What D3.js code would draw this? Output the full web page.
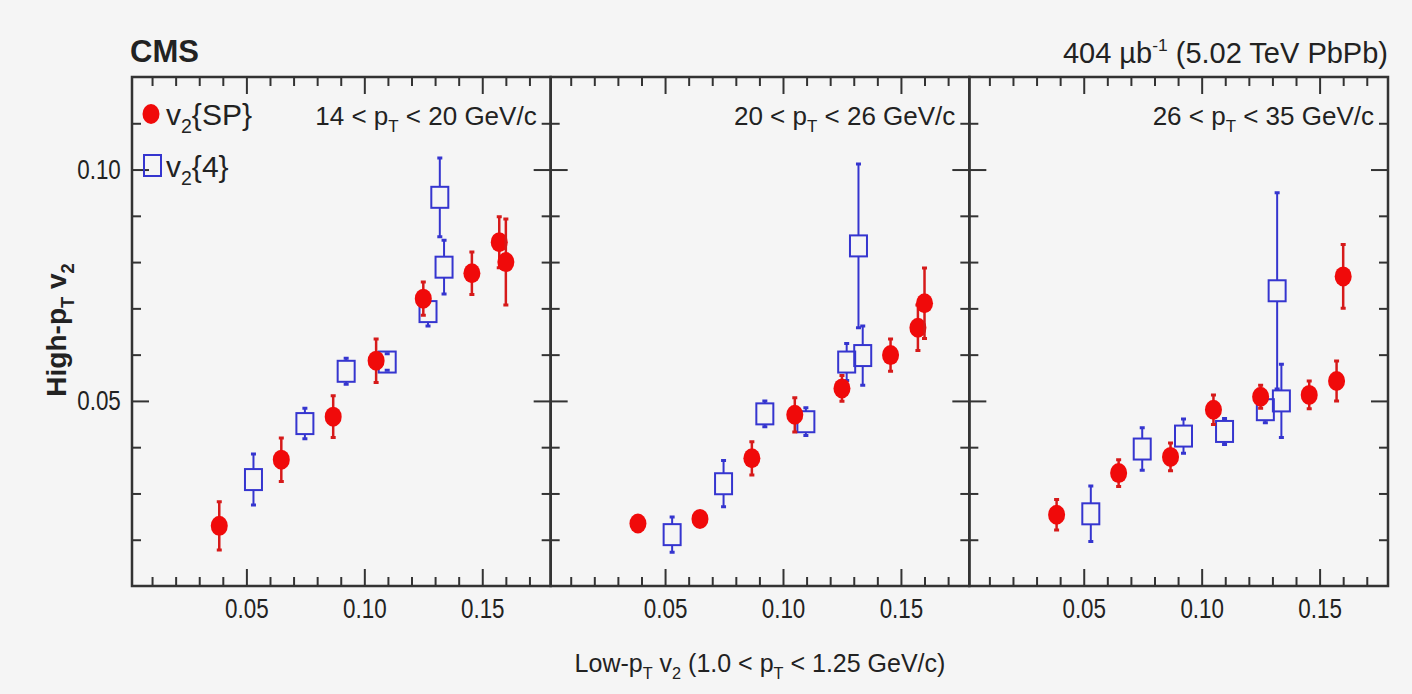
<!DOCTYPE html>
<html>
<head>
<meta charset="utf-8">
<script src="https://cdn.jsdelivr.net/npm/d3@7"></script>
<style>
  html, body { margin: 0; padding: 0; background: #f5f5f5; }
  svg { display: block; }
  text { font-family: "Liberation Sans", Arial, Helvetica, sans-serif; fill: #222; }
</style>
</head>
<body>
<div id="chart"></div>
<script>
(function () {
  "use strict";

  // low-pT v2 values (same x for the three pT bins)
  const spX = [0.0385, 0.0648, 0.0868, 0.1050, 0.1250, 0.1456, 0.1572, 0.1600];
  const c4X = [0.0530, 0.0748, 0.0923, 0.1097, 0.1270, 0.1320, 0.1338];

  // v2{SP}, one array per panel
  const spY1 = [0.0230, 0.0373, 0.0466, 0.0587, 0.0721, 0.0776, 0.0843, 0.0800];
  const spE1 = [0.0052, 0.0047, 0.0045, 0.0047, 0.0036, 0.0046, 0.0055, 0.0093];
  const spY2 = [0.0235, 0.0245, 0.0376, 0.0470, 0.0527, 0.0599, 0.0658, 0.0711];
  const spE2 = [0.0015, 0.0012, 0.0036, 0.0037, 0.0028, 0.0035, 0.0049, 0.0076];
  const spY3 = [0.0254, 0.0344, 0.0379, 0.0481, 0.0509, 0.0513, 0.0543, 0.0769];
  const spE3 = [0.0033, 0.0029, 0.0030, 0.0032, 0.0025, 0.0030, 0.0043, 0.0069];

  // v2{4}
  const c4Y1 = [0.0330, 0.0451, 0.0564, 0.0584, 0.0693, 0.0940, 0.0789];
  const c4E1 = [0.0055, 0.0033, 0.0028, 0.0018, 0.0031, 0.0085, 0.0058];
  const c4Y2 = [0.0211, 0.0321, 0.0472, 0.0455, 0.0584, 0.0835, 0.0598];
  const c4E2 = [0.0038, 0.0050, 0.0028, 0.0030, 0.0040, 0.0177, 0.0064];
  const c4Y3 = [0.0256, 0.0396, 0.0424, 0.0434, 0.0481, 0.0738, 0.0500];
  const c4E3 = [0.0060, 0.0046, 0.0037, 0.0028, 0.0028, 0.0212, 0.0079];

  const ptLow = ["14", "20", "26"];
  const ptHigh = ["20", "26", "35"];

  const xMajor = [0.05, 0.10, 0.15];
  const xMinor = [0.01, 0.02, 0.03, 0.04, 0.06, 0.07, 0.08, 0.09, 0.11, 0.12, 0.13, 0.14, 0.16, 0.17];
  const yMajor = [0.05, 0.10];
  const yMinor = [0.02, 0.03, 0.04, 0.06, 0.07, 0.08, 0.09, 0.11];

  const panels = [
    {spY: spY1, spE: spE1, c4Y: c4Y1, c4E: c4E1},
    {spY: spY2, spE: spE2, c4Y: c4Y2, c4E: c4E2},
    {spY: spY3, spE: spE3, c4Y: c4Y3, c4E: c4E3}
  ];

  const W = 1412, H = 694;
  const left = 132, right = 1388, top = 77, bottom = 586;
  const pw = (right - left) / 3;

  const red = "#f00a0a", redDark = "#d61a1a", blue = "#3535cf", ink = "#333";

  const svg = d3.select("#chart").append("svg")
    .attr("width", W).attr("height", H);

  svg.append("rect").attr("width", W).attr("height", H).attr("fill", "#f5f5f5");

  const y = d3.scaleLinear().domain([0.01, 0.12]).range([bottom, top]);

  // text with sub/superscripts; parts = [[str, "n"|"sub"|"sup"], ...]
  function rich(sel, parts, size) {
    let shift = 0;
    parts.forEach(function (p) {
      let t = sel.append("tspan").text(p[0]);
      let target = 0;
      if (p[1] === "sub") {
        t.attr("font-size", size * 0.65);
        target = size * 0.28;
      } else if (p[1] === "sup") {
        t.attr("font-size", size * 0.6);
        target = -size * 0.4;
      }
      if (target !== shift) t.attr("dy", target - shift);
      shift = target;
    });
  }

  const fmt = d3.format(".2f");

  panels.forEach(function (p, i) {
    let x0 = left + i * pw, x1 = x0 + pw;
    let x = d3.scaleLinear().domain([0.0015, 0.179]).range([x0, x1]);
    let g = svg.append("g");

    // axes, ticks pointing inward
    function axis(gen, tx, ty, vals, len, labels) {
      let a = g.append("g").attr("transform", `translate(${tx},${ty})`)
        .call(gen.tickValues(vals).tickSize(-len).tickSizeOuter(0)
          .tickPadding(10).tickFormat(labels ? fmt : ""));
      a.select(".domain").remove();
      a.selectAll("line").attr("stroke", ink).attr("stroke-width", 2);
      return a;
    }
    axis(d3.axisBottom(x), 0, bottom, xMinor, 9, false);
    let xb = axis(d3.axisBottom(x), 0, bottom, xMajor, 17, true);
    xb.selectAll("text").attr("font-size", 28).attr("fill", "#333")
      .attr("font-family", "'Liberation Sans', Arial, sans-serif")
      .attr("y", 12).attr("transform", "scale(0.8,1)");
    axis(d3.axisTop(x), 0, top, xMinor, 9, false);
    axis(d3.axisTop(x), 0, top, xMajor, 17, false);
    axis(d3.axisLeft(y), x0, 0, yMinor, 9, false);
    let yl = axis(d3.axisLeft(y), x0, 0, yMajor, 17, i === 0);
    if (i === 0) {
      yl.selectAll("text").attr("font-size", 28).attr("fill", "#333")
        .attr("font-family", "'Liberation Sans', Arial, sans-serif")
        .attr("x", -14).attr("transform", "scale(0.8,1)");
    }
    axis(d3.axisRight(y), x1, 0, yMinor, 9, false);
    axis(d3.axisRight(y), x1, 0, yMajor, 17, false);

    g.append("rect").attr("x", x0).attr("y", top)
      .attr("width", pw).attr("height", bottom - top)
      .attr("fill", "none").attr("stroke", ink).attr("stroke-width", 2.5);

    // v2{4}: open squares, error bars stop at the marker edge
    let sq = {w: 17, h: 21};
    let c4 = g.append("g").selectAll("g").data(c4X.map(function (v, k) {
      return {x: v, y: p.c4Y[k], e: p.c4E[k]};
    })).join("g");
    c4.append("line")
      .attr("x1", d => x(d.x)).attr("x2", d => x(d.x))
      .attr("y1", d => y(d.y + d.e))
      .attr("y2", d => Math.max(y(d.y) - sq.h / 2, y(d.y + d.e)))
      .attr("stroke", blue).attr("stroke-width", 2);
    c4.append("line")
      .attr("x1", d => x(d.x)).attr("x2", d => x(d.x))
      .attr("y1", d => Math.min(y(d.y) + sq.h / 2, y(d.y - d.e)))
      .attr("y2", d => y(d.y - d.e))
      .attr("stroke", blue).attr("stroke-width", 2);
    c4.append("path")
      .attr("d", d => `M${x(d.x) - 2.5},${y(d.y + d.e)}h5M${x(d.x) - 2.5},${y(d.y - d.e)}h5`)
      .attr("stroke", blue).attr("stroke-width", 3);
    c4.append("rect")
      .attr("x", d => x(d.x) - sq.w / 2).attr("y", d => y(d.y) - sq.h / 2)
      .attr("width", sq.w).attr("height", sq.h)
      .attr("fill", "none").attr("stroke", blue).attr("stroke-width", 2);

    // v2{SP}: filled circles
    let sp = g.append("g").selectAll("g").data(spX.map(function (v, k) {
      return {x: v, y: p.spY[k], e: p.spE[k]};
    })).join("g");
    sp.append("line")
      .attr("x1", d => x(d.x)).attr("x2", d => x(d.x))
      .attr("y1", d => y(d.y + d.e)).attr("y2", d => y(d.y - d.e))
      .attr("stroke", redDark).attr("stroke-width", 2.5);
    sp.append("path")
      .attr("d", d => `M${x(d.x) - 2.5},${y(d.y + d.e)}h5M${x(d.x) - 2.5},${y(d.y - d.e)}h5`)
      .attr("stroke", redDark).attr("stroke-width", 3);
    sp.append("ellipse")
      .attr("cx", d => x(d.x)).attr("cy", d => y(d.y))
      .attr("rx", 8.5).attr("ry", 10)
      .attr("fill", red);

    // pT bin label
    let lab = svg.append("text")
      .attr("x", x1 - 14).attr("y", 125)
      .attr("text-anchor", "end").attr("font-size", 26);
    rich(lab, [[ptLow[i] + " < p", "n"], ["T", "sub"], [" < " + ptHigh[i] + " GeV/c", "n"]], 26);
  });

  // legend
  svg.append("ellipse").attr("cx", 151).attr("cy", 114).attr("rx", 8.5).attr("ry", 10).attr("fill", red);
  svg.append("rect").attr("x", 144).attr("y", 155).attr("width", 17).attr("height", 21)
    .attr("fill", "none").attr("stroke", blue).attr("stroke-width", 2);
  let l1 = svg.append("text").attr("x", 166).attr("y", 125).attr("font-size", 30);
  rich(l1, [["v", "n"], ["2", "sub"], ["{SP}", "n"]], 30);
  let l2 = svg.append("text").attr("x", 166).attr("y", 177).attr("font-size", 30);
  rich(l2, [["v", "n"], ["2", "sub"], ["{4}", "n"]], 30);

  // header
  svg.append("text").attr("x", 130).attr("y", 62)
    .attr("font-size", 31).attr("font-weight", "bold").attr("fill", "#111").text("CMS");
  let lumi = svg.append("text").attr("x", right).attr("y", 63)
    .attr("text-anchor", "end").attr("font-size", 29).attr("fill", "#111");
  rich(lumi, [["404 \u00b5b", "n"], ["-1", "sup"], [" (5.02 TeV PbPb)", "n"]], 29);

  // axis titles
  let xt = svg.append("text").attr("x", 760).attr("y", 672)
    .attr("text-anchor", "middle").attr("font-size", 25).attr("fill", "#333");
  rich(xt, [["Low-p", "n"], ["T", "sub"], [" v", "n"], ["2", "sub"], [" (1.0 < p", "n"], ["T", "sub"], [" < 1.25 GeV/c)", "n"]], 25);

  let yt = svg.append("text")
    .attr("transform", "translate(66,330) rotate(-90)")
    .attr("text-anchor", "middle").attr("font-size", 28)
    .attr("font-weight", "bold").attr("fill", "#222");
  rich(yt, [["High-p", "n"], ["T", "sub"], [" v", "n"], ["2", "sub"]], 28);
}());
</script>
</body>
</html>
